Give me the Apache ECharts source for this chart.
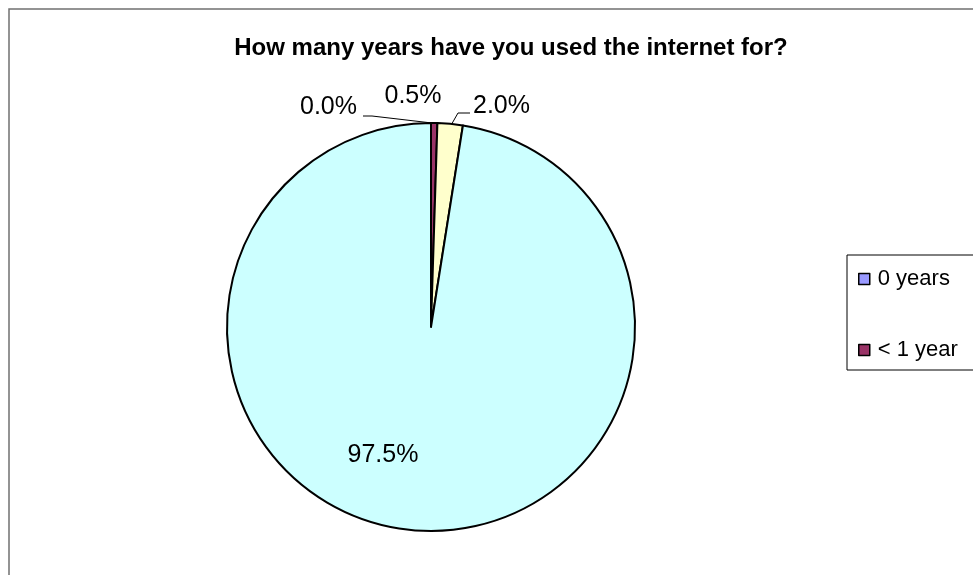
<!DOCTYPE html>
<html>
<head>
<meta charset="utf-8">
<script src="https://cdn.jsdelivr.net/npm/echarts@6/dist/echarts.min.js"></script>
<style>
html,body{margin:0;padding:0;background:#fff;}
#chart{width:973px;height:575px;}
</style>
</head>
<body>
<div id="chart"></div>
<script>
const titleText = 'How many years have you used the internet for?';
const categories = ['0 years', '< 1 year', '1-2 years', '> 2 years'];
const values = [0, 1, 4, 195];
const legendItems = ['0 years', '< 1 year'];
const colors = ['#9999FF', '#993366', '#FFFFCC', '#CCFFFF'];

const FONT = "'Liberation Sans', Arial, sans-serif";
const CX = 431, CY = 327, R = 204;

const chart = echarts.init(document.getElementById('chart'), null, {renderer: 'canvas'});

const data = categories.map((name, i) => {
  const item = {name: name, value: values[i], itemStyle: {color: colors[i]}};
  if (i === 1) item.labelLine = {show: false};
  if (i === 3) item.label = {position: 'inside'};
  return item;
});

const option = {
  animation: false,
  backgroundColor: '#ffffff',
  title: {
    text: titleText,
    left: 506,
    textAlign: 'center',
    top: 31,
    textStyle: {fontFamily: FONT, fontSize: 24, fontWeight: 'bold', color: '#000'}
  },
  legend: {
    data: legendItems,
    orient: 'vertical',
    left: 847,
    top: 255,
    padding: [13, 200, 9, 11],
    itemGap: 49,
    itemWidth: 11,
    itemHeight: 11,
    icon: 'rect',
    borderColor: '#000',
    borderWidth: 1,
    selectedMode: false,
    itemStyle: {borderColor: '#000', borderWidth: 1.5},
    textStyle: {fontFamily: FONT, fontSize: 22, lineHeight: 22, color: '#000', padding: [0, 0, 0, 3]}
  },
  graphic: [{
    type: 'rect',
    shape: {x: 9, y: 9, width: 1400, height: 900},
    style: {fill: 'none', stroke: '#707070', lineWidth: 1.5},
    silent: true,
    z: 0
  }],
  series: [{
    type: 'pie',
    center: [CX, CY],
    radius: R,
    startAngle: 90,
    clockwise: true,
    avoidLabelOverlap: false,
    minAngle: 0,
    data: data,
    itemStyle: {borderColor: '#000', borderWidth: 2},
    emphasis: {disabled: true},
    label: {
      show: true,
      position: 'outside',
      formatter: p => p.percent.toFixed(1) + '%',
      fontFamily: FONT,
      fontSize: 25,
      color: '#000'
    },
    labelLine: {show: true, lineStyle: {color: '#000', width: 1}},
    labelLayout: function (p) {
      const top = CY - R;
      switch (p.dataIndex) {
        case 0:
          return {
            x: CX - 74, y: top - 16, align: 'right', verticalAlign: 'middle',
            labelLinePoints: [[CX + 1, top], [CX - 59, top - 7], [CX - 68, top - 7]]
          };
        case 1:
          return {x: CX - 18, y: top - 27, align: 'center', verticalAlign: 'middle'};
        case 2:
          return {
            x: CX + 42, y: top - 17, align: 'left', verticalAlign: 'middle',
            labelLinePoints: [[CX + 21, top + 0.5], [CX + 27, top - 10], [CX + 39, top - 10]]
          };
        case 3:
          return {x: CX - 48, y: CY + 128, align: 'center', verticalAlign: 'middle'};
      }
    }
  }]
};
chart.setOption(option);
</script>
</body>
</html>
